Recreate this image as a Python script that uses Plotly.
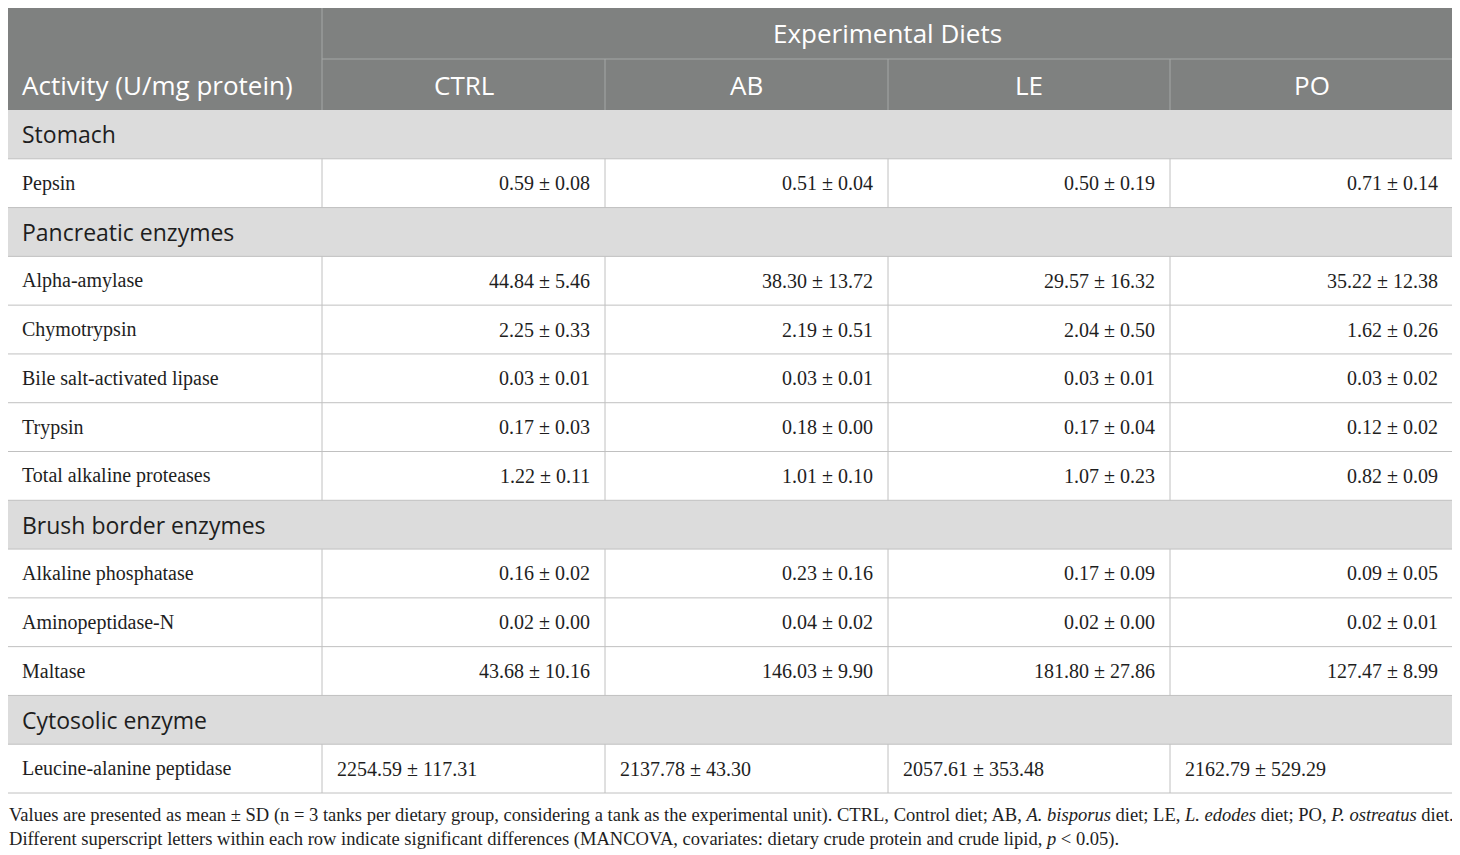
import plotly.graph_objects as go

# ---- data ----
diets = ['CTRL', 'AB', 'LE', 'PO']
sections = ['Stomach', 'Pancreatic enzymes', 'Brush border enzymes', 'Cytosolic enzyme']
enzymes = ['Pepsin',
           'Alpha-amylase', 'Chymotrypsin', 'Bile salt-activated lipase', 'Trypsin',
           'Total alkaline proteases',
           'Alkaline phosphatase', 'Aminopeptidase-N', 'Maltase',
           'Leucine-alanine peptidase']
enzyme_section = [0, 1, 1, 1, 1, 1, 2, 2, 2, 3]

ctrl_mean = [0.59, 44.84, 2.25, 0.03, 0.17, 1.22, 0.16, 0.02, 43.68, 2254.59]
ctrl_sd = [0.08, 5.46, 0.33, 0.01, 0.03, 0.11, 0.02, 0.00, 10.16, 117.31]
ab_mean = [0.51, 38.30, 2.19, 0.03, 0.18, 1.01, 0.23, 0.04, 146.03, 2137.78]
ab_sd = [0.04, 13.72, 0.51, 0.01, 0.00, 0.10, 0.16, 0.02, 9.90, 43.30]
le_mean = [0.50, 29.57, 2.04, 0.03, 0.17, 1.07, 0.17, 0.02, 181.80, 2057.61]
le_sd = [0.19, 16.32, 0.50, 0.01, 0.04, 0.23, 0.09, 0.00, 27.86, 353.48]
po_mean = [0.71, 35.22, 1.62, 0.03, 0.12, 0.82, 0.09, 0.02, 127.47, 2162.79]
po_sd = [0.14, 12.38, 0.26, 0.02, 0.02, 0.09, 0.05, 0.01, 8.99, 529.29]

left_aligned_rows = ['Leucine-alanine peptidase']

footnote = ('Values are presented as mean ± SD (n = 3 tanks per dietary group, considering a tank as the '
            'experimental unit). CTRL, Control diet; AB, <i>A. bisporus</i> diet; LE, <i>L. edodes</i> diet; '
            'PO, <i>P. ostreatus</i> diet.<br>Different superscript letters within each row indicate '
            'significant differences (MANCOVA, covariates: dietary crude protein and crude lipid, '
            '<i>p</i> &lt; 0.05).')

# ---- geometry (page pixels; page body has an 8px margin) ----
W, H = 1460, 855
OFF = 8
x_edges = [7, 322, 605, 888, 1170, 1453]
top, head1, head2, bottom = 7, 59, 110, 793
pad = 13

HEAD_FILL = 'rgb(127,129,128)'
HEAD_LINE = 'rgb(165,167,166)'
SEC_FILL = 'rgb(220,220,220)'
GRID = 'rgb(192,192,192)'
TEXT = 'rgb(30,30,30)'
SANS = 'Open Sans'
SERIF = 'Liberation Serif'

# body rows: section headers interleaved with enzyme rows
body = []
for si, sec in enumerate(sections):
    body.append(('section', si))
    for ei, s in enumerate(enzyme_section):
        if s == si:
            body.append(('row', ei))
row_h = (bottom - head2) / len(body)

columns = [(ctrl_mean, ctrl_sd), (ab_mean, ab_sd), (le_mean, le_sd), (po_mean, po_sd)]

shapes = []
annotations = []


def rect(x0, y0, x1, y1, fill):
    shapes.append(dict(type='rect', xref='x', yref='y', x0=x0, y0=y0, x1=x1, y1=y1,
                       fillcolor=fill, line=dict(color=fill, width=0), layer='below'))


def hline(x0, x1, y, color, width=1):
    shapes.append(dict(type='line', xref='x', yref='y', x0=x0, x1=x1, y0=y, y1=y,
                       line=dict(color=color, width=width)))


def vline(x, y0, y1, color, width=1):
    shapes.append(dict(type='line', xref='x', yref='y', x0=x, x1=x, y0=y0, y1=y1,
                       line=dict(color=color, width=width)))


def label(x, y, text, anchor, font, size, color=TEXT):
    annotations.append(dict(x=x, y=y, xref='x', yref='y', text=text, showarrow=False,
                            xanchor=anchor, yanchor='middle',
                            font=dict(family=font, size=size, color=color)))


# header
rect(x_edges[0], top, x_edges[-1], head2, HEAD_FILL)
hline(x_edges[1], x_edges[-1], head1, HEAD_LINE)
vline(x_edges[1], top, head2, HEAD_LINE)
for xe in x_edges[2:-1]:
    vline(xe, head1, head2, HEAD_LINE)
label((x_edges[1] + x_edges[-1]) / 2, (top + head1) / 2, 'Experimental Diets', 'center', SANS, 26, 'white')
label(x_edges[0] + pad, (head1 + head2) / 2, 'Activity (U/mg protein)', 'left', SANS, 26, 'white')
for i, d in enumerate(diets):
    label((x_edges[i + 1] + x_edges[i + 2]) / 2, (head1 + head2) / 2, d, 'center', SANS, 26, 'white')

# body
for k, (kind, idx) in enumerate(body):
    y0 = head2 + k * row_h
    y1 = y0 + row_h
    yc = (y0 + y1) / 2
    if kind == 'section':
        rect(x_edges[0], y0, x_edges[-1], y1, SEC_FILL)
        label(x_edges[0] + pad, yc, sections[idx], 'left', SANS, 23)
    else:
        for xe in x_edges[1:-1]:
            vline(xe, y0, y1, GRID)
        label(x_edges[0] + pad, yc, enzymes[idx], 'left', SERIF, 20)
        left = enzymes[idx] in left_aligned_rows
        for c, (means, sds) in enumerate(columns):
            txt = '{:.2f} ± {:.2f}'.format(means[idx], sds[idx])
            if left:
                label(x_edges[c + 1] + pad, yc, txt, 'left', SERIF, 20)
            else:
                label(x_edges[c + 2] - pad, yc, txt, 'right', SERIF, 20)
    hline(x_edges[0], x_edges[-1], y1, GRID)

# outer border of body
vline(x_edges[0], head2, bottom, GRID)
vline(x_edges[-1], head2, bottom, GRID)

annotations.append(dict(x=OFF, y=bottom + 10, xref='x', yref='y', text=footnote,
                        showarrow=False, xanchor='left', yanchor='top', align='left',
                        borderpad=0,
                        font=dict(family=SERIF, size=18.55, color=TEXT)))

fig = go.Figure()
fig.update_layout(
    width=W, height=H,
    margin=dict(l=0, r=0, t=0, b=0),
    paper_bgcolor='white', plot_bgcolor='white',
    xaxis=dict(range=[OFF, W + OFF], visible=False, fixedrange=True),
    yaxis=dict(range=[H + OFF, OFF], visible=False, fixedrange=True),
    shapes=shapes,
    annotations=annotations,
    showlegend=False,
)

fig.write_html('out.html')
